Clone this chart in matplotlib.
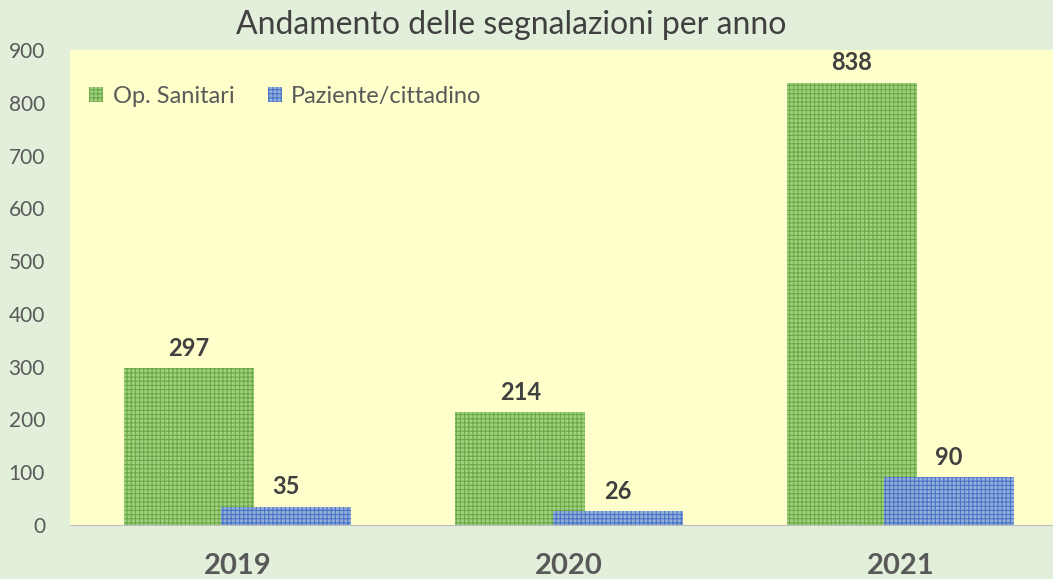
import matplotlib.pyplot as plt
import numpy as np

plt.rcParams['font.family'] = ['Lato', 'DejaVu Sans']

anni = ['2019', '2020', '2021']
op_sanitari = [297, 214, 838]
pazienti = [35, 26, 90]

fig = plt.figure(figsize=(10.53, 5.79), dpi=100, facecolor='#e2efda')
ax = fig.add_axes([0.0665, 0.0933, 0.9335, 0.8203])
ax.set_facecolor('#ffffcc')

x = np.arange(len(anni))
w = 0.393
off = 0.147
plt.rcParams['hatch.linewidth'] = 0.8
b1 = ax.bar(x - off, op_sanitari, w, color='#a3cf85', edgecolor='#6aaa42',
            hatch='++++', linewidth=0, label='Op. Sanitari', zorder=2)
b2 = ax.bar(x + off, pazienti, w, color='#8faadc', edgecolor='#4472c4',
            hatch='++++', linewidth=0, label='Paziente/cittadino', zorder=3, alpha=0.95)

for bars in (b1, b2):
    for r in bars:
        ax.annotate(str(int(r.get_height())), (r.get_x() + r.get_width() / 2, r.get_height()),
                    xytext=(0, 6), textcoords='offset points', ha='center', va='bottom',
                    fontsize=17, fontweight='bold', color='#404040')

ax.set_xlim(-0.505, 2.46)
ax.set_ylim(0, 900)
ax.set_yticks(range(0, 901, 100))
ax.set_xticks(x)
ax.set_xticklabels(anni, fontsize=21, fontweight='bold', color='#595959')
ax.tick_params(axis='y', labelsize=15, labelcolor='#595959', length=0, pad=18)
ax.tick_params(axis='x', length=0, pad=20)
for s in ('top', 'right', 'left'):
    ax.spines[s].set_visible(False)
ax.spines['bottom'].set_color('#bfbfbf')

fig.text(0.485, 0.957, 'Andamento delle segnalazioni per anno', ha='center', va='center',
         fontsize=23, color='#404040')

ax.legend(loc='upper left', bbox_to_anchor=(-0.002, 0.97), ncol=2, frameon=False,
          fontsize=17, handlelength=0.6, handleheight=0.6, handletextpad=0.4,
          columnspacing=1.4, labelcolor='#595959')

fig.savefig('out.png', dpi=100, facecolor=fig.get_facecolor())
